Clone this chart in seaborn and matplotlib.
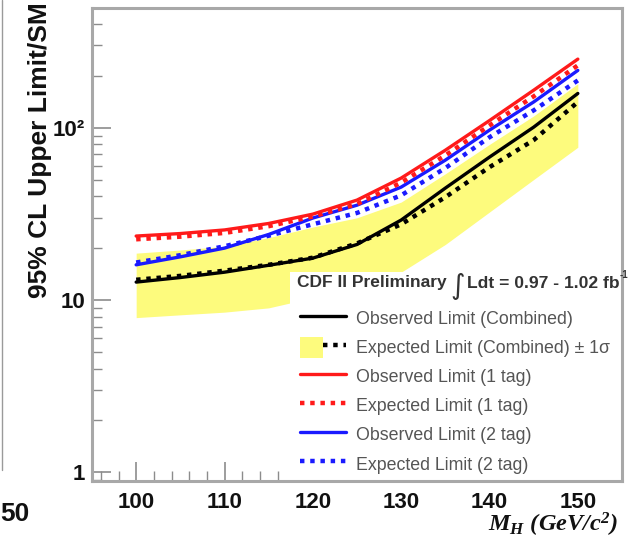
import numpy as np
import pandas as pd
import matplotlib
matplotlib.use("Agg")
import matplotlib.pyplot as plt
import seaborn as sns
from matplotlib.lines import Line2D
from matplotlib.patches import Patch, Rectangle
from matplotlib.legend_handler import HandlerTuple
from matplotlib.ticker import FixedLocator, MultipleLocator, LogLocator, NullFormatter

# ---------------- data ----------------
mass = [100, 105, 110, 115, 120, 125, 130, 135, 140, 145, 150]
obs_comb = [12.7, 13.5, 14.5, 15.9, 17.5, 21.0, 29.1, 44.6, 67.5, 100.7, 158]
exp_comb = [13.1, 13.8, 14.8, 16.0, 17.6, 21.3, 27.5, 39.5, 59.0, 84.7, 141]
band_lo = [7.9, 8.2, 8.5, 9.0, 10.3, 12.0, 14.5, 21.0, 32.4, 50.0, 77]
band_hi = [18.7, 19.5, 20.5, 23.0, 26.5, 30.0, 37.0, 54.0, 80.0, 117, 180]
obs_1tag = [23.5, 24.3, 25.5, 27.8, 31.5, 38.0, 51.0, 74.0, 110, 165, 250]
exp_1tag = [22.5, 23.3, 24.5, 26.8, 30.5, 36.0, 48.0, 69.0, 103, 152, 230]
obs_2tag = [16.0, 17.8, 20.0, 24.0, 29.9, 35.5, 45.2, 64.8, 96.8, 141, 215]
exp_2tag = [16.5, 18.2, 20.5, 23.6, 27.5, 32.0, 40.5, 58.3, 88.0, 126, 188]

x_ticks = [100, 110, 120, 130, 140, 150]
y_ticks = [1, 10, 100]
y_tick_labels = ["1", "10", "10\u00b2"]

labels = ["Observed Limit (Combined)",
          "Expected Limit (Combined) \u00b1 1\u03c3",
          "Observed Limit (1 tag)",
          "Expected Limit (1 tag)",
          "Observed Limit (2 tag)",
          "Expected Limit (2 tag)"]

# ---------------- style ----------------
sns.set_style("white")
plt.rcParams["font.family"] = ["Liberation Sans", "DejaVu Sans"]
plt.rcParams["mathtext.fontset"] = "custom"
plt.rcParams["mathtext.it"] = "Liberation Serif:italic:bold"
plt.rcParams["mathtext.rm"] = "Liberation Serif:italic:bold"
plt.rcParams["mathtext.bf"] = "Liberation Serif:italic:bold"

W, H = 640, 538
fig = plt.figure(figsize=(W / 100, H / 100), dpi=100)
ax_l, ax_r, ax_t, ax_b = 92, 622, 8, 481
ax = fig.add_axes([ax_l / W, 1 - ax_b / H, (ax_r - ax_l) / W, (ax_b - ax_t) / H])

df = pd.DataFrame({"mass": mass, "obs_comb": obs_comb, "exp_comb": exp_comb,
                   "band_lo": band_lo, "band_hi": band_hi,
                   "obs_1tag": obs_1tag, "exp_1tag": exp_1tag,
                   "obs_2tag": obs_2tag, "exp_2tag": exp_2tag})

YELLOW = "#fdfb7d"
RED = "#ff1a1a"
BLUE = "#1a1aff"
BLACK = "#000000"
DOT = (0, (1.0, 1.3))

ax.fill_between(df["mass"], df["band_lo"], df["band_hi"], color=YELLOW, lw=0, zorder=1)

# white legend box hiding the band
ax.add_patch(Rectangle((0.3736, 0.0), 0.6264, 0.442, transform=ax.transAxes,
                       facecolor="white", edgecolor="none", zorder=1.5))

series = [("exp_comb", BLACK, DOT, 3.2), ("obs_comb", BLACK, "-", 2.4),
          ("exp_2tag", BLUE, DOT, 3.2), ("obs_2tag", BLUE, "-", 2.4),
          ("exp_1tag", RED, DOT, 3.2), ("obs_1tag", RED, "-", 2.4)]
for col, c, ls, lw in series:
    sns.lineplot(data=df, x="mass", y=col, ax=ax, color=c, linestyle=ls, lw=lw,
                 zorder=3, dash_capstyle="butt")

ax.set_yscale("log")
ax.set_xlim(95, 155)
ax.set_ylim(0.89, 495)
ax.set_xlabel("")
ax.set_ylabel("")

ax.xaxis.set_major_locator(FixedLocator(x_ticks))
ax.xaxis.set_minor_locator(MultipleLocator(2))
ax.set_xticks(x_ticks)
ax.set_xticklabels([str(v) for v in x_ticks])
ax.yaxis.set_major_locator(FixedLocator(y_ticks))
ax.set_yticks(y_ticks)
ax.set_yticklabels(y_tick_labels)
ax.yaxis.set_minor_locator(LogLocator(base=10, subs=np.arange(2, 10)))
ax.yaxis.set_minor_formatter(NullFormatter())

for lab in ax.get_xticklabels() + ax.get_yticklabels():
    lab.set_fontweight("bold")
    lab.set_fontsize(16)
    lab.set_color("#111111")

ax.tick_params(axis="both", which="both", direction="in", color="#8c8c8c",
               top=False, right=False, left=True, bottom=True)
ax.tick_params(axis="both", which="major", length=14, width=1.2)
ax.tick_params(axis="both", which="minor", length=7, width=1.0)
ax.tick_params(axis="x", which="major", pad=8)
ax.tick_params(axis="y", which="major", pad=5)

for s in ax.spines.values():
    s.set_color("#a8a8a8")
    s.set_linewidth(2.2)
    s.set_visible(True)

# ---------------- legend ----------------
handles = [
    Line2D([], [], color=BLACK, lw=2.4),
    (Patch(facecolor=YELLOW, edgecolor="none"),
     Line2D([], [], color=BLACK, lw=3.2, linestyle=DOT, dash_capstyle="butt")),
    Line2D([], [], color=RED, lw=2.4),
    Line2D([], [], color=RED, lw=3.2, linestyle=DOT, dash_capstyle="butt"),
    Line2D([], [], color=BLUE, lw=2.4),
    Line2D([], [], color=BLUE, lw=3.2, linestyle=DOT, dash_capstyle="butt"),
]
leg = ax.legend(handles, labels, loc="upper left",
                bbox_to_anchor=((300 - ax_l) / (ax_r - ax_l), (ax_b - 308) / (ax_b - ax_t)),
                frameon=False, fontsize=12.8, handlelength=2.6, handleheight=1.4,
                handletextpad=0.55, labelspacing=0.48, borderpad=0, borderaxespad=0,
                handler_map={tuple: HandlerTuple(ndivide=None, pad=0)})
for t in leg.get_texts():
    t.set_color("#555555")

def fx(px):
    return px / W

def fy(py):
    return 1 - py / H

fig.text(fx(297), fy(283), "CDF II Preliminary", fontsize=12.5, fontweight="bold",
         color="#333333", va="center", ha="left")
fig.text(fx(458), fy(286), "\u222b", fontsize=20, color="#333333", va="center", ha="center",
         family=["DejaVu Sans"])
fig.text(fx(467), fy(283), "Ldt = 0.97 - 1.02 fb", fontsize=12.6, fontweight="bold",
         color="#333333", va="center", ha="left")
fig.text(fx(620), fy(275), "-1", fontsize=7, fontweight="bold",
         color="#333333", va="center", ha="left")

# axis titles
fig.text(fx(40), fy(2), "95% CL Upper Limit/SM", rotation=90, fontsize=19,
         fontweight="bold", color="#111111", va="top", ha="center")
fig.text(fx(618), fy(532), r"$M_{H}\ (GeV/c^{2})$", fontsize=17.5, color="#111111",
         va="baseline", ha="right")

# cropped-edge remnants of the source image
fig.text(fx(0), fy(514), "50", fontsize=19, fontweight="bold", color="#111111",
         va="center", ha="left")
fig.add_artist(Line2D([1.5 / W, 1.5 / W], [fy(0), fy(470)], color="#9a9a9a", lw=1.0))

fig.savefig("out.png", dpi=100, facecolor="white")
